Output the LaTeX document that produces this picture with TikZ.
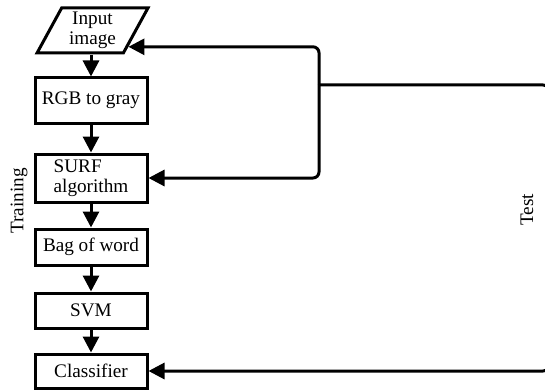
\documentclass[tikz,border=0pt]{standalone}
\usepackage{fontspec}
\setmainfont{Liberation Serif}
\usetikzlibrary{shapes.geometric,arrows.meta,calc}

\tikzset{
  stage/.style={draw, line width=1.5pt, minimum width=56pt, inner sep=1pt, align=center},
  flow/.style={line width=1.5pt, -{Triangle[length=8pt,width=8pt]}},
}

\begin{document}
\begin{tikzpicture}[x=0.5pt, y=-0.5pt, font=\fontsize{9.6}{10}\selectfont]
        \useasboundingbox (0,0) rectangle (545,390);
        % Nodes
        \draw (92.5,30.5) node[draw, line width=1.5pt, trapezium, trapezium stretches=true,
              trapezium left angle=63, trapezium right angle=117, minimum width=55.5pt,
              minimum height=22.5pt, inner sep=0pt, align=center] (inp) {Input\\image};
        \draw (91,100.5)  node[stage, minimum height=22.5pt] (rgb) {RGB to gray};
        \draw (91,178)    node[stage, minimum height=24pt, align=left] (surf) {SURF\\algorithm};
        \draw (91,247)    node[stage, minimum height=18pt] (bag) {Bag of word};
        \draw (91,310.5)  node[stage, minimum height=17.5pt] (svm) {SVM};
        \draw (91,371)    node[stage, minimum height=17pt] (cls) {Classifier};

        % Side labels
        \draw (19,201)  node[rotate=90] (train) {Training};
        \draw (527,210) node[rotate=90] (test) {Test};

        % Training chain
        \draw[flow] (inp.south -| rgb.north) -- (rgb.north);
        \draw[flow] (rgb.south) -- (surf.north);
        \draw[flow] (surf.south) -- (bag.north);
        \draw[flow] (bag.south) -- (svm.north);
        \draw[flow] (svm.south) -- (cls.north);

        % Test loop
        \coordinate (jct) at (319,85);
        \coordinate (far) at (549,85);
        \coordinate (inpR) at ($(inp.bottom right corner)!0.16!(inp.top right corner)$);
        \draw[flow, rounded corners=3pt] (jct) |- (inpR);
        \draw[flow, rounded corners=3pt] (jct) |- (surf.east);
        \draw[flow, rounded corners=3pt] (jct) -- (far) |- (cls.east);
\end{tikzpicture}
\end{document}
